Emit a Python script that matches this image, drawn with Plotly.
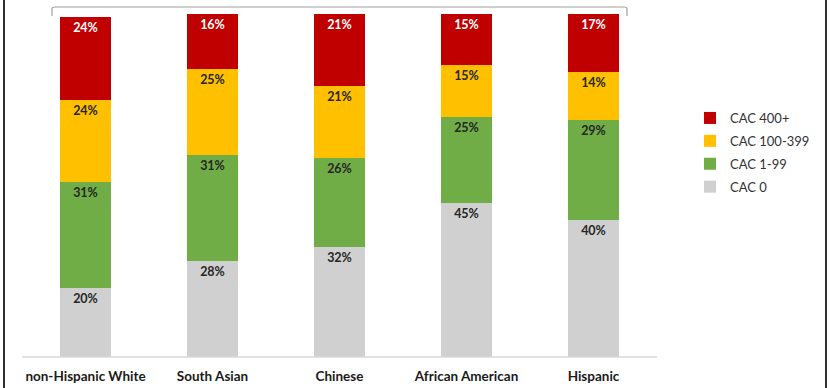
import plotly.graph_objects as go

groups = ["non-Hispanic White", "South Asian", "Chinese", "African American", "Hispanic"]
cac_0 = [20, 28, 32, 45, 40]
cac_1_99 = [31, 31, 26, 25, 29]
cac_100_399 = [24, 25, 21, 15, 14]
cac_400 = [24, 16, 21, 15, 17]

series = [
    ("CAC 0", cac_0, "#D0D0D0", "#262626"),
    ("CAC 1-99", cac_1_99, "#70AD47", "#262626"),
    ("CAC 100-399", cac_100_399, "#FFC000", "#262626"),
    ("CAC 400+", cac_400, "#C00000", "#FFFFFF"),
]

fig = go.Figure()
for i, (name, vals, color, tcolor) in enumerate(series):
    fig.add_trace(go.Bar(
        x=groups, y=vals, name=name, legendgroup=name,
        legendrank=100 - i,
        marker=dict(color=color, line=dict(width=0)),
        text=[f"{v}%" for v in vals],
        textposition="inside", insidetextanchor="end",
        textangle=0,
        textfont=dict(family="Lato", size=12.5, color=tcolor, weight="bold"),
        cliponaxis=False,
    ))

W, H = 831, 388
L, R, T, B = 22, 174, 14, 31
pw, ph = W - L - R, H - T - B


def px(x):
    return (x - L) / pw


def py(y):
    return (H - B - y) / ph


shapes = [
    # baseline
    dict(type="line", xref="paper", yref="paper", x0=0, x1=1, y0=0, y1=0,
         line=dict(color="#D9D9D9", width=1.5)),
    # outer frame sides
    dict(type="line", xref="paper", yref="paper", x0=px(4), x1=px(4), y0=py(0), y1=py(388),
         line=dict(color="#303030", width=2)),
    dict(type="line", xref="paper", yref="paper", x0=px(826), x1=px(826), y0=py(0), y1=py(388),
         line=dict(color="#303030", width=2)),
    # bracket along the top
    dict(type="path", xref="paper", yref="paper",
         path=(f"M {px(52)},{py(16)} L {px(52)},{py(9)} Q {px(52)},{py(7)} {px(55)},{py(7)} "
               f"L {px(624)},{py(7)} Q {px(627)},{py(7)} {px(627)},{py(9)} L {px(627)},{py(16)}"),
         line=dict(color="#A0A0A0", width=1.2)),
]

fig.update_layout(
    width=W, height=H,
    margin=dict(l=L, r=R, t=T, b=B, autoexpand=False),
    barmode="stack", bargap=0.6,
    plot_bgcolor="white", paper_bgcolor="white",
    shapes=shapes,
    showlegend=True,
    legend=dict(
        traceorder="grouped", tracegroupgap=3,
        x=px(690), xanchor="left", y=py(103), yanchor="top",
        font=dict(family="Lato", size=13, color="#333333"),
        itemwidth=30, bgcolor="rgba(0,0,0,0)",
    ),
    xaxis=dict(
        showgrid=False, showline=False, zeroline=False, ticks="",
        tickfont=dict(family="Lato", size=13.5, color="#1a1a1a", weight="bold"),
        ticklabelstandoff=9,
    ),
    yaxis=dict(range=[0, 100], visible=False, showgrid=False),
    uniformtext=dict(mode=False),
)

fig.write_html("out.html")
